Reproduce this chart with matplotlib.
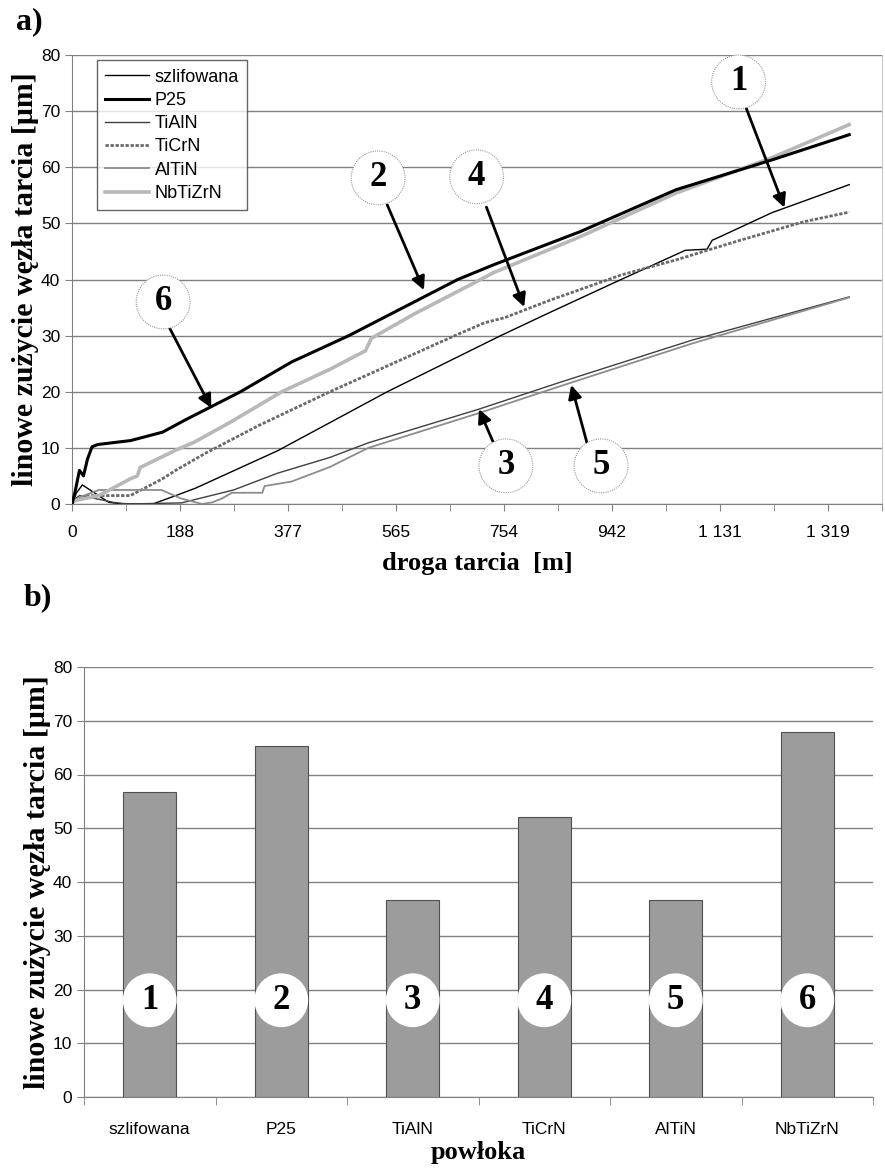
import matplotlib
matplotlib.use('Agg')
from matplotlib import pyplot as plt

# --- a) linowe zuzycie vs droga tarcia ---
szl_x = [0, 8, 18, 39, 64, 89, 141, 181, 215, 359, 550, 748, 831, 958, 1070, 1108, 1117, 1126, 1221, 1356]
szl_y = [0, 2, 3.4, 2, 0.3, 0, 0, 1.5, 2.8, 9.5, 20, 30, 34, 40, 45.2, 45.4, 47.0, 47.4, 51.9, 56.9]

p25_x = [0, 5, 13, 20, 27, 35, 45, 102, 158, 198, 294, 383, 483, 673, 735, 886, 1054, 1221, 1356]
p25_y = [0, 2, 6, 5, 8, 10.2, 10.6, 11.3, 12.8, 15, 20, 25.3, 30, 40, 42.6, 48.5, 56, 61.3, 65.8]

tialn_x = [0, 13, 30, 72, 97, 191, 282, 359, 450, 517, 710, 852, 1082, 1356]
tialn_y = [0.5, 1.5, 1.2, 0.3, 0, 0.2, 2.5, 5.5, 8.3, 10.9, 16.9, 21.7, 29.2, 36.9]

ticrn_x = [0, 30, 102, 158, 181, 232, 326, 450, 668, 720, 755, 831, 958, 1054, 1166, 1277, 1356]
ticrn_y = [0.5, 1.5, 1.5, 4.5, 6, 9, 14, 20, 30, 32.3, 33.2, 36.2, 40.8, 43.5, 47, 50.3, 52]

altin_x = [0, 13, 47, 156, 190, 227, 245, 262, 279, 332, 336, 383, 450, 517, 710, 852, 1082, 1356]
altin_y = [0, 1.2, 2.5, 2.5, 1.0, 0, 0.3, 1, 2, 2, 3.2, 4.0, 6.6, 10, 16.2, 21, 28.6, 36.8]

nb_x = [0, 47, 102, 114, 119, 181, 213, 275, 366, 450, 512, 522, 596, 713, 735, 886, 1054, 1221, 1356]
nb_y = [0.5, 1.5, 4.5, 5, 6.5, 9.6, 11, 14.5, 20, 24, 27.3, 29.5, 33.8, 40, 41.2, 47.6, 55.4, 61.7, 67.6]

x_tick_pos = [0, 188.4, 376.9, 565.3, 753.7, 942.1, 1130.6, 1319.0]
x_tick_labels = ['0', '188', '377', '565', '754', '942', '1 131', '1 319']

# --- b) slupki ---
coatings = ['szlifowana', 'P25', 'TiAlN', 'TiCrN', 'AlTiN', 'NbTiZrN']
wear = [56.8, 65.3, 36.7, 52.1, 36.7, 68.0]

serif = 'Liberation Serif'
sans = 'Liberation Sans'
grid_c = '#808080'
ylab = 'linowe zużycie węzła tarcia [μm]'

plt.rcParams['font.family'] = sans

fig = plt.figure(figsize=(8.85, 11.71), dpi=100)

ax = fig.add_axes([72/885, (1171-504)/1171, 810/885, 449/1171])
ax.plot(szl_x, szl_y, color='black', lw=1.0, label='szlifowana', zorder=3)
ax.plot(p25_x, p25_y, color='black', lw=2.2, label='P25', zorder=4)
ax.plot(tialn_x, tialn_y, color='#404040', lw=1.0, label='TiAlN', zorder=3)
ax.plot(ticrn_x, ticrn_y, color='#6a6a6a', lw=2.0, ls=(0, (1.2, 0.6)), label='TiCrN', zorder=3)
ax.plot(altin_x, altin_y, color='#8c8c8c', lw=1.3, label='AlTiN', zorder=3)
ax.plot(nb_x, nb_y, color='#b8b8b8', lw=2.6, label='NbTiZrN', zorder=3)

ax.set_xlim(0, 1359)
ax.set_ylim(0, 80)
ax.set_yticks(range(0, 81, 10))
ax.set_xticks(x_tick_pos)
ax.set_xticklabels(x_tick_labels)
ax.set_xticks([p + 94.2 for p in x_tick_pos], minor=True)
ax.yaxis.grid(True, color=grid_c, lw=1)
ax.set_axisbelow(True)
ax.spines['top'].set_visible(False)
for s in ['left', 'bottom']:
    ax.spines[s].set_color(grid_c)
ax.spines['right'].set_color('#c8c8c8')
ax.tick_params(axis='both', which='both', colors=grid_c, labelcolor='black', labelsize=12.5, length=5)
ax.tick_params(axis='x', pad=10)
ax.set_xlabel('droga tarcia  [m]', family=serif, fontweight='bold', fontsize=19, labelpad=9)
ax.set_ylabel(ylab, family=serif, fontweight='bold', fontsize=21.5, labelpad=1)

leg = ax.legend(loc='upper left', bbox_to_anchor=(0.031, 0.988), fontsize=13, frameon=True,
                fancybox=False, edgecolor='#404040', handlelength=2.4, handletextpad=0.35,
                labelspacing=0.35, borderpad=0.45, borderaxespad=0)
leg.get_frame().set_linewidth(1.0)

circ = dict(boxstyle='circle,pad=0.3', fc='white', ec='#999999', lw=0.8, ls=(0, (1, 1)))
num_style = dict(ha='center', va='center', fontsize=25, fontweight='bold', family=serif, zorder=10)
arr = dict(arrowstyle='-|>', color='black', lw=2, mutation_scale=20, shrinkA=0, shrinkB=0)

# (label, circle centre, arrow start, arrow tip) in data units
notes = [
    ('1', (1163, 75.2), (1176, 70.6), (1243, 52.8)),
    ('2', (534, 58.1), (550, 53.3), (614, 38.1)),
    ('4', (706, 58.3), (723, 52.9), (789, 35.1)),
    ('6', (159, 36.0), (169, 31.6), (243, 17.1)),
    ('3', (757, 6.8), (737, 10.5), (710, 16.9)),
    ('5', (923, 6.8), (899, 10.7), (871, 21.2)),
]
for t, c, a0, a1 in notes:
    ax.annotate('', xy=a1, xytext=a0, arrowprops=arr, zorder=9)
    ax.text(c[0], c[1], t, bbox=circ, **num_style)

fig.text(16/885, 1 - 22/1171, 'a)', family=serif, fontweight='bold', fontsize=23, va='center')

# --- b) ---
bx = fig.add_axes([84/885, (1171-1097)/1171, 789/885, 430/1171])
pos = list(range(len(coatings)))
bx.bar(pos, wear, width=0.4, color='#9c9c9c', edgecolor='#505050', lw=0.8, zorder=3)
bx.set_xlim(-0.5, len(coatings) - 0.5)
bx.set_ylim(0, 80)
bx.set_yticks(range(0, 81, 10))
bx.set_xticks(pos)
bx.set_xticklabels(coatings)
bx.set_xticks([p - 0.5 for p in pos] + [len(coatings) - 0.5], minor=True)
bx.yaxis.grid(True, color=grid_c, lw=1)
bx.set_axisbelow(True)
for s in ['top', 'right']:
    bx.spines[s].set_visible(False)
for s in ['left', 'bottom']:
    bx.spines[s].set_color(grid_c)
bx.tick_params(axis='y', colors=grid_c, labelcolor='black', labelsize=12.5, length=5)
bx.tick_params(axis='x', which='major', length=0, labelsize=12.5, pad=18)
bx.tick_params(axis='x', which='minor', length=6, colors=grid_c)
bx.set_xlabel('powłoka', family=serif, fontweight='bold', fontsize=19, labelpad=3)
bx.set_ylabel(ylab, family=serif, fontweight='bold', fontsize=21.5, labelpad=1)

circ_b = dict(boxstyle='circle,pad=0.3', fc='white', ec='none')
for p in pos:
    bx.text(p, 18, str(p + 1), bbox=circ_b, **num_style)

fig.text(24/885, 1 - 598/1171, 'b)', family=serif, fontweight='bold', fontsize=23, va='center')

fig.savefig('out.png', dpi=100)
